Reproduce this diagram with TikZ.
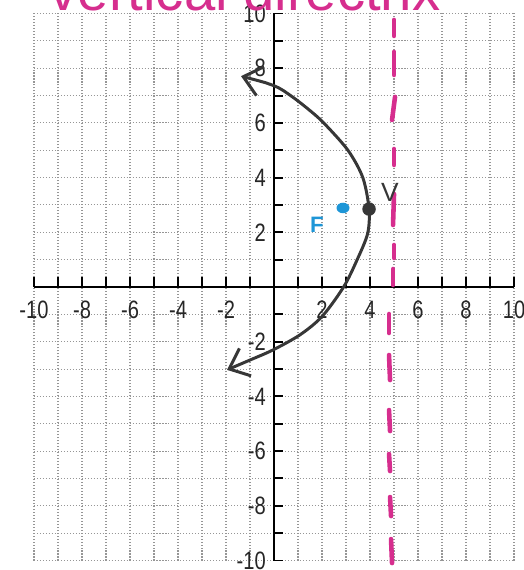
\documentclass[tikz,border=0pt]{standalone}
\usepackage{fontspec}
\setmainfont{Liberation Sans}
\newfontfamily\axisfont[FakeStretch=0.8]{Liberation Sans}
\usetikzlibrary{arrows.meta,shapes.geometric}
\definecolor{pinkline}{RGB}{214,46,142}
\definecolor{curvegray}{RGB}{55,55,55}
\definecolor{fblue}{RGB}{30,150,215}
\definecolor{gridgray}{RGB}{150,150,150}
\tikzset{
  gridline/.style={gridgray, line width=0.6pt, dash pattern=on 0.6pt off 1.1pt},
  axisline/.style={black, line width=1.1pt},
  axlabel/.style={font=\axisfont\fontsize{14.3}{15}\selectfont, inner sep=0pt, text=black!85},
  dirdash/.style={pinkline, line width=2.6pt, line cap=round},
  curveline/.style={curvegray, line width=1.7pt, line cap=round, line join=round},
  barb/.tip={Straight Barb[length=10pt,width=17pt]},
  pxframe/.style={x=0.02cm, y=-0.02cm, shift={(-274,-287)}}
}
\begin{document}
\begin{tikzpicture}[x=0.48cm,y=0.547cm]
% frame of 523 x 570 px
\useasboundingbox (-11.4167,10.4936) rectangle (10.375,-10.347);
\clip (-11.4167,10.4936) rectangle (10.375,-10.347);

% grid
\foreach \i in {-10,...,10} {
  \draw[gridline] (\i,-10) -- (\i,10);
  \draw[gridline] (-10,\i) -- (10,\i);
}

% axes and ticks
\draw[axisline] (-10,0) -- (10,0);
\draw[axisline] (0,-10) -- (0,10);
\foreach \i in {-10,...,10} {
  \draw[axisline] (\i,0) -- (\i,0.37);
  \draw[axisline] (0,\i) -- (0.38,\i);
}

% axis labels
\foreach \i in {-10,-8,-6,-4,-2,2,4,6,8,10} {
  \node[axlabel] (xl\i) at (\i,-0.84) {\i};
  \node[axlabel, anchor=east] (yl\i) at (-0.33,\i) {\i};
}

% directrix (hand drawn dashes) and title, in pixel units
\begin{scope}[pxframe]
  \foreach \xa/\ya/\xb/\yb in {394/20/394/36, 394/52/394/75, 395/97/392/120,
      394/149/394/165, 394/194/393/225, 394/245/394/258, 393/269/393/285,
      389/314/389/333, 389/355/390/380, 389/410/390/431, 389/454/390/471,
      390/497/391/516, 391/539/392/563}
    \draw[dirdash] (\xa,\ya) -- (\xb,\yb);
  \node[anchor=base, inner sep=0pt, text=pinkline, font=\fontsize{32}{34}\selectfont]
    (title) at (245,11) {vertical directrix};
\end{scope}

% parabola
\draw[curveline, barb-barb] plot[smooth, tension=0.5] coordinates {
  (-1.375,7.71) (0,7.36) (0.69,7.0) (1.43,6.5) (2.07,6.0) (3.08,5.0) (3.70,4.0)
  (3.96,2.85) (3.90,1.95) (3.46,0.99) (2.9,0.0) (2.0,-1.08) (1.08,-1.75)
  (-0.04,-2.30) (-1.0,-2.67) (-1.96,-3.03)};

% vertex and focus
\node[circle, fill=curvegray, inner sep=0pt, minimum size=0.27cm] (V) at (3.96,2.85) {};
\node[ellipse, fill=fblue, inner sep=0pt, minimum width=0.26cm, minimum height=0.21cm] (F) at (2.875,2.89) {};
\node[inner sep=0pt, text=fblue, font=\bfseries\fontsize{12.7}{13}\selectfont] (Flabel) at (1.79,2.27) {F};
\node[inner sep=0pt, text=curvegray, font=\fontsize{15}{15}\selectfont] (Vlabel) at (4.83,3.47) {V};
\end{tikzpicture}
\end{document}
